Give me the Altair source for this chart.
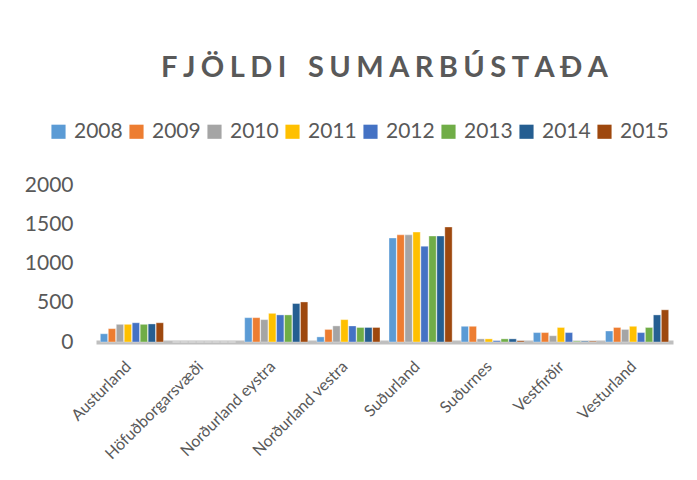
import altair as alt
import pandas as pd

regions = ["Austurland", "Höfuðborgarsvæði", "Norðurland eystra", "Norðurland vestra",
           "Suðurland", "Suðurnes", "Vestfirðir", "Vesturland"]
years = ["2008", "2009", "2010", "2011", "2012", "2013", "2014", "2015"]
v2008 = [105, 0, 310, 65, 1325, 200, 120, 140]
v2009 = [170, 0, 310, 160, 1365, 200, 120, 185]
v2010 = [225, 0, 285, 205, 1365, 40, 80, 160]
v2011 = [225, 0, 365, 285, 1400, 40, 185, 200]
v2012 = [245, 0, 345, 205, 1220, 15, 120, 120]
v2013 = [225, 0, 345, 185, 1350, 40, 10, 185]
v2014 = [230, 0, 490, 185, 1350, 40, 10, 345]
v2015 = [245, 0, 510, 185, 1465, 15, 10, 410]
colors = ["#5B9BD5", "#ED7D31", "#A5A5A5", "#FFC000", "#4472C4", "#70AD47", "#255E91", "#9E480E"]

series = [v2008, v2009, v2010, v2011, v2012, v2013, v2014, v2015]
rows = []
for y, vals in zip(years, series):
    for r, v in zip(regions, vals):
        rows.append({"Svæði": r, "Ár": y, "Fjöldi": v})
df = pd.DataFrame(rows)

FONT = "Lato"
GRAY = "#595959"
gap = "\u2009\u200A"
title_text = gap.join(list("FJÖLDI")) + gap * 4 + gap.join(list("SUMARBÚSTAÐA"))

chart = alt.Chart(df).mark_bar(stroke="white", strokeWidth=0.6, strokeOpacity=0.6).encode(
    x=alt.X("Svæði:N", sort=regions,
            scale=alt.Scale(paddingInner=0.125, paddingOuter=0.06),
            axis=alt.Axis(title=None, labelAngle=-45, labelAlign="right", labelBaseline="top",
                          labelFontSize=16, labelColor=GRAY, labelFont=FONT, ticks=False,
                          domainColor="#BFBFBF", domainWidth=4, labelPadding=16,
                          labelOffset=-9)),
    xOffset=alt.XOffset("Ár:N", sort=years, scale=alt.Scale(paddingInner=0.08)),
    y=alt.Y("Fjöldi:Q", scale=alt.Scale(domain=[0, 2000]),
            axis=alt.Axis(title=None, values=[0, 500, 1000, 1500, 2000], grid=False,
                          domain=False, ticks=False, labelFontSize=21, labelColor=GRAY,
                          labelFont=FONT, labelPadding=23, format="d")),
    color=alt.Color("Ár:N", sort=years, scale=alt.Scale(domain=years, range=colors),
                    legend=alt.Legend(title=None, orient="none", legendX=-48, legendY=-64,
                                      direction="horizontal", columns=8, symbolType="square",
                                      symbolSize=200, labelFontSize=21, labelColor=GRAY,
                                      labelFont=FONT, columnPadding=3, labelOffset=5,
                                      symbolStrokeWidth=0)),
).properties(
    width=577, height=157,
    title=alt.TitleParams(title_text, fontSize=29, fontWeight="bold", color=GRAY, font=FONT,
                          anchor="middle", offset=38),
    autosize=alt.AutoSizeParams(type="none"),
    padding={"left": 88, "top": 177, "right": 16, "bottom": 130},
).configure_view(stroke=None)

chart.save("out.html", embed_options={"renderer": "svg", "actions": False})
